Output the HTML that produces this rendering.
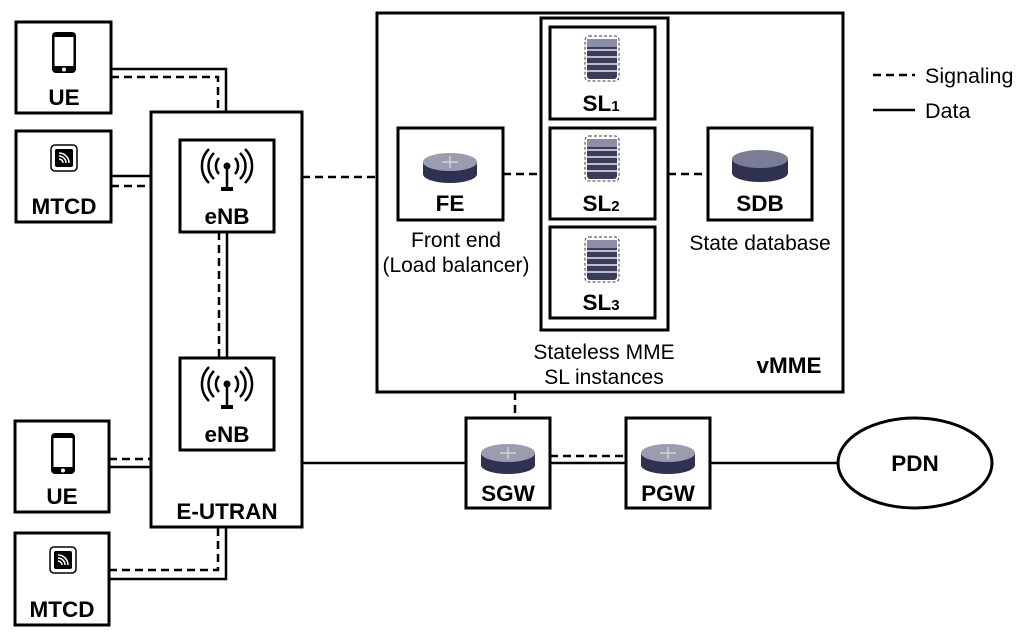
<!DOCTYPE html>
<html><head><meta charset="utf-8"><style>
html,body{margin:0;padding:0;background:#fff;}
svg{display:block;}
text{font-family:"Liberation Sans",Arial,sans-serif;}
.b{font-weight:bold;font-size:22.5px;text-anchor:middle;}
.n{font-size:21px;text-anchor:middle;}
</style></head><body>
<svg width="1024" height="636" viewBox="0 0 1024 636" xmlns="http://www.w3.org/2000/svg">
<defs>
<g id="phone"><rect x="-12" y="0" width="24" height="41" rx="4" fill="#000"/><rect x="-9.5" y="5" width="19" height="29" fill="#fff"/><circle cx="0" cy="37.5" r="2" fill="#fff"/></g>
<g id="mtc"><rect x="-13" y="0" width="26" height="26" rx="4" fill="#fff" stroke="#000" stroke-width="1.5"/><rect x="-9" y="4" width="18" height="18" rx="2" fill="#000"/>
<path d="M-5 8 A10 10 0 0 1 5 18 M-5 11 A7 7 0 0 1 2 18 M-5 14 A4 4 0 0 1 -1 18" fill="none" stroke="#fff" stroke-width="1.5"/></g>
<g id="ant" fill="none" stroke="#000" stroke-width="2.5"><circle cx="0" cy="0" r="3.5" fill="#000" stroke="none"/><line x1="0" y1="0" x2="0" y2="22"/><rect x="-6" y="21" width="12" height="4" fill="#000" stroke="none"/>
<path d="M-8 -8 A12 12 0 0 0 -8 8 M8 -8 A12 12 0 0 1 8 8 M-13 -13 A18 18 0 0 0 -13 13 M13 -13 A18 18 0 0 1 13 13 M-18 -17 A24 24 0 0 0 -18 17 M18 -17 A24 24 0 0 1 18 17"/></g>
<g id="router"><path d="M-27 -6 L-27 6 A27 9 0 0 0 27 6 L27 -6 Z" fill="#2e3150"/><ellipse cx="0" cy="-6" rx="27" ry="9" fill="#9a9db0"/><path d="M-8 -6 H8 M0 -12 V0" stroke="#ddd" stroke-width="1.2"/></g>
<g id="db"><path d="M-28 -7 L-28 7 A28 9 0 0 0 28 7 L28 -7 Z" fill="#2e3150"/><ellipse cx="0" cy="-7" rx="28" ry="9" fill="#7a7d95"/></g>
<g id="srv"><rect x="-17" y="0" width="34" height="45" rx="4" fill="none" stroke="#336" stroke-width="1" stroke-dasharray="3,2"/><rect x="-15" y="3" width="30" height="40" rx="3" fill="#3a3d58"/><rect x="-15" y="3" width="30" height="8" fill="#8b8ea5"/><path d="M-15 14 H15 M-15 21 H15 M-15 28 H15 M-15 35 H15" stroke="#e8e8ee" stroke-width="1.5"/></g>
</defs>
<g fill="none" stroke="#000" stroke-width="3">
<rect x="16" y="22" width="95" height="91"/>
<rect x="16" y="131" width="95" height="91"/>
<rect x="151" y="112" width="151" height="415"/>
<rect x="180" y="140" width="94" height="92"/>
<rect x="180" y="358" width="94" height="92"/>
<rect x="15" y="421" width="94" height="91"/>
<rect x="15" y="533" width="94" height="92"/>
<rect x="377" y="13" width="466" height="379"/>
<rect x="541" y="18" width="127" height="312"/>
<rect x="550" y="27" width="105" height="92"/>
<rect x="550" y="128" width="105" height="91"/>
<rect x="550" y="227" width="105" height="91"/>
<rect x="398" y="128" width="105" height="92"/>
<rect x="708" y="128" width="104" height="92"/>
<rect x="466" y="418" width="84" height="90"/>
<rect x="626" y="418" width="84" height="90"/>
<ellipse cx="915" cy="463" rx="77" ry="45"/>
</g>
<g fill="none" stroke="#000" stroke-width="2.5">
<polyline points="111,69 226,69 226,112"/>
<line x1="111" y1="176" x2="151" y2="176"/>
<line x1="227" y1="232" x2="227" y2="358"/>
<line x1="109" y1="467" x2="151" y2="467"/>
<polyline points="109,579 226,579 226,527"/>
<line x1="302" y1="463" x2="466" y2="463"/>
<line x1="550" y1="463" x2="626" y2="463"/>
<line x1="710" y1="463" x2="838" y2="463"/>
<line x1="873" y1="110" x2="915" y2="110"/>
</g>
<g fill="none" stroke="#000" stroke-width="2.5" stroke-dasharray="8,5">
<polyline points="111,77 218,77 218,112"/>
<line x1="111" y1="186" x2="151" y2="186"/>
<line x1="219" y1="232" x2="219" y2="358"/>
<line x1="109" y1="459" x2="151" y2="459"/>
<polyline points="109,570 218,570 218,527"/>
<line x1="302" y1="177" x2="377" y2="177"/>
<line x1="503" y1="174" x2="541" y2="174"/>
<line x1="668" y1="174" x2="708" y2="174"/>
<line x1="515" y1="392" x2="515" y2="418"/>
<line x1="550" y1="456" x2="626" y2="456"/>
<line x1="873" y1="75" x2="915" y2="75"/>
</g>
<use href="#phone" x="64" y="32"/>
<use href="#mtc" x="64" y="145"/>
<use href="#phone" x="63" y="433"/>
<use href="#mtc" x="63" y="547"/>
<use href="#ant" x="227" y="166"/>
<use href="#ant" x="227" y="384"/>
<use href="#srv" x="602" y="36"/>
<use href="#srv" x="602" y="136"/>
<use href="#srv" x="602" y="237"/>
<use href="#router" x="450" y="168"/>
<use href="#db" x="760" y="166"/>
<use href="#router" x="508" y="459"/>
<use href="#router" x="668" y="459"/>
<text class="b" x="64" y="105">UE</text>
<text class="b" x="64" y="214">MTCD</text>
<text class="b" x="62" y="504">UE</text>
<text class="b" x="62" y="617">MTCD</text>
<text class="b" x="227" y="224">eNB</text>
<text class="b" x="227" y="442">eNB</text>
<text class="b" x="227" y="519">E-UTRAN</text>
<text class="b" x="450" y="211">FE</text>
<text class="b" x="760" y="211">SDB</text>
<text class="b" x="508" y="501">SGW</text>
<text class="b" x="668" y="501">PGW</text>
<text class="b" x="915" y="471">PDN</text>
<text class="b" x="789" y="373">vMME</text>
<text class="b" x="601" y="111">SL<tspan font-size="15">1</tspan></text>
<text class="b" x="601" y="211">SL<tspan font-size="15">2</tspan></text>
<text class="b" x="601" y="310">SL<tspan font-size="15">3</tspan></text>
<text class="n" x="456" y="247">Front end</text>
<text class="n" x="456" y="272">(Load balancer)</text>
<text class="n" x="760" y="250">State database</text>
<text class="n" x="604" y="359">Stateless MME</text>
<text class="n" x="604" y="384">SL instances</text>
<text x="925" y="83" font-size="21.5">Signaling</text>
<text x="925" y="118" font-size="21.5">Data</text>
</svg>
</body></html>
